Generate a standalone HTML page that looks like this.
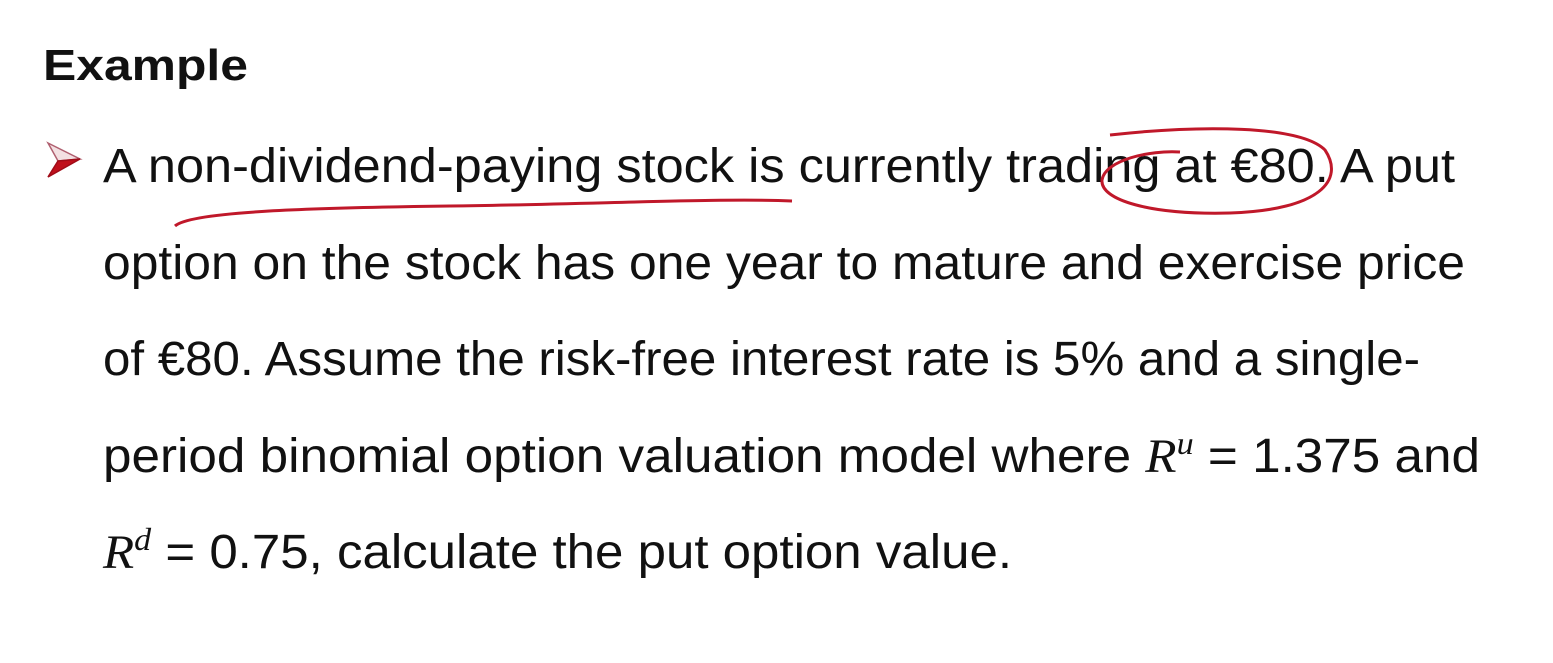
<!DOCTYPE html>
<html><head><meta charset="utf-8"><style>
html,body{margin:0;padding:0;background:#fff;}
svg{display:block;}
text{font-family:"Liberation Sans",sans-serif;fill:#111;}
.r{font-family:"Liberation Serif",serif;font-style:italic;}
</style></head><body>
<svg width="1553" height="663" viewBox="0 0 1553 663">
<rect width="1553" height="663" fill="#fff"/>
<text x="43" y="80" font-size="44" font-weight="bold" textLength="205" lengthAdjust="spacingAndGlyphs">Example</text>
<g>
<polygon points="48,143 80,159 58,161" fill="#f3e0e2" stroke="#b06070" stroke-width="1.5"/>
<polygon points="58,161 80,159 48,177" fill="#c0101c" stroke="#a00c18" stroke-width="1.5"/>
</g>
<text x="103" y="182" font-size="48" textLength="1352" lengthAdjust="spacingAndGlyphs">A non-dividend-paying stock is currently trading at €80. A put</text>
<text x="103" y="279" font-size="48" textLength="1362" lengthAdjust="spacingAndGlyphs">option on the stock has one year to mature and exercise price</text>
<text x="103" y="375" font-size="48" textLength="1317" lengthAdjust="spacingAndGlyphs">of €80. Assume the risk-free interest rate is 5% and a single-</text>
<text x="103" y="472" font-size="48" textLength="1377" lengthAdjust="spacingAndGlyphs">period binomial option valuation model where <tspan class="r">R</tspan><tspan class="r" font-size="32" dy="-18">u</tspan><tspan dy="18"> = 1.375 and</tspan></text>
<text x="103" y="568" font-size="48" textLength="909" lengthAdjust="spacingAndGlyphs"><tspan class="r">R</tspan><tspan class="r" font-size="32" dy="-18">d</tspan><tspan dy="18"> = 0.75, calculate the put option value.</tspan></text>
<path d="M175,226 C190,212 300,208 450,206 C600,204 720,198 792,201" fill="none" stroke="#c0182a" stroke-width="3"/>
<path d="M1110,135 C1200,125 1300,125 1325,150 C1345,180 1320,210 1230,213 C1150,215 1100,200 1102,180 C1105,160 1150,150 1180,152" fill="none" stroke="#c0182a" stroke-width="3"/>
</svg>
</body></html>
